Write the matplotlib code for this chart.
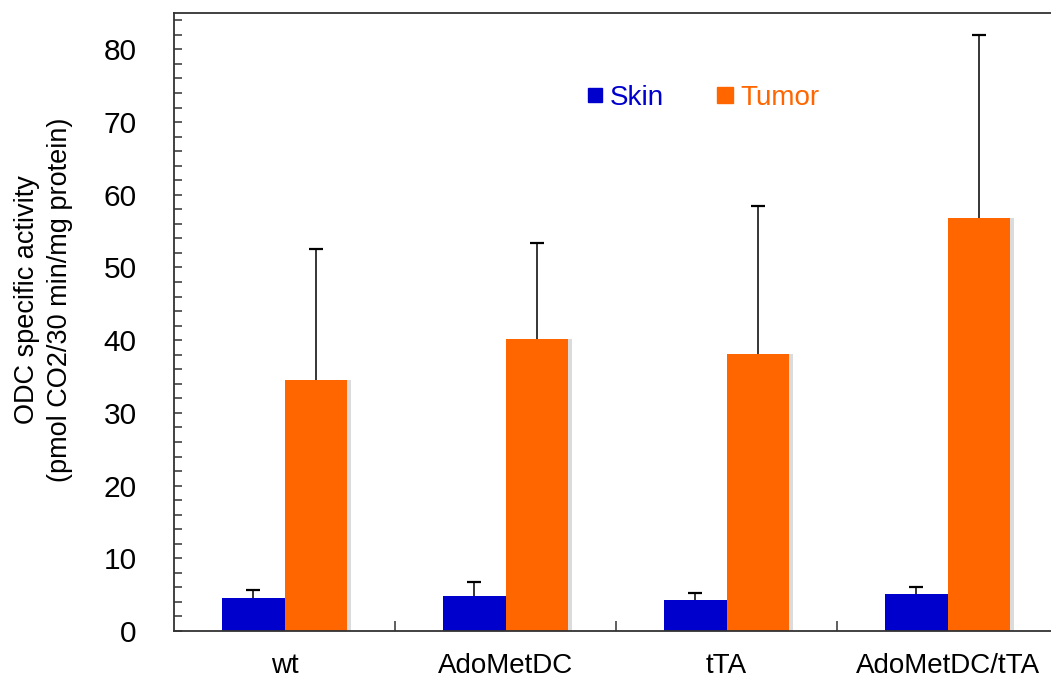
import numpy as np
import matplotlib
matplotlib.use("Agg")
import matplotlib.pyplot as plt
import matplotlib.patheffects as pe
from matplotlib.lines import Line2D
from matplotlib.ticker import MultipleLocator, FixedLocator

plt.rcParams["font.family"] = ["Liberation Sans", "DejaVu Sans"]

# Data
groups = ["wt", "AdoMetDC", "tTA", "AdoMetDC/tTA"]
skin = [4.6, 4.8, 4.2, 5.1]
skin_err = [1.1, 1.9, 1.0, 1.0]
tumor = [34.5, 40.1, 38.1, 56.8]
tumor_err = [18.1, 13.2, 20.3, 25.2]

blue = "#0000CC"
orange = "#FF6600"

fig = plt.figure(figsize=(10.51, 6.82), dpi=100)
ax = fig.add_axes([174 / 1051, 1 - 631 / 682, 884 / 1051, 618 / 682])

x = np.arange(len(groups))
w = 0.285
shadow = [pe.SimplePatchShadow(offset=(2.5, 0), shadow_rgbFace="#999999", alpha=0.35),
          pe.Normal()]

ax.bar(x - w / 2, skin, w, color=blue, zorder=2)
ax.bar(x + w / 2, tumor, w, color=orange, zorder=2, path_effects=shadow)

# upper-only error bars: hide the cap drawn at the bar top
zeros = np.zeros(len(groups))
for xs, vals, errs in [(x - w / 2, skin, skin_err), (x + w / 2, tumor, tumor_err)]:
    _, caps, _ = ax.errorbar(xs, vals, yerr=[zeros, errs], fmt="none", ecolor="black",
                             elinewidth=1.1, capsize=5, capthick=1.6, zorder=3)
    caps[0].set_visible(False)

ax.set_xlim(-0.5, len(groups) - 0.5)
ax.set_ylim(0, 85)

ax.set_xticks(x)
ax.set_xticklabels(groups, fontsize=20)
ax.xaxis.set_minor_locator(FixedLocator(x[:-1] + 0.5))
ax.tick_params(axis="x", which="major", length=0, pad=16)
ax.tick_params(axis="x", which="minor", direction="in", length=7.5, width=1.1,
               color="#333333")

ax.yaxis.set_major_locator(MultipleLocator(10))
ax.yaxis.set_minor_locator(MultipleLocator(2))
ax.tick_params(axis="y", which="both", direction="in", length=6, width=1.1,
               color="#333333", labelsize=21.5, pad=27)

for side in ["left", "bottom", "top"]:
    ax.spines[side].set_linewidth(1.3)
    ax.spines[side].set_color("#333333")
ax.spines["right"].set_visible(False)

fig.text(44 / 1051, 1 - 300 / 682,
         "ODC specific activity\n(pmol CO2/30 min/mg protein)",
         rotation=90, ha="center", va="center", multialignment="center",
         fontsize=19.5, linespacing=1.35)

handles = [
    Line2D([], [], marker="s", linestyle="none", color=blue, markersize=10, label="Skin"),
    Line2D([], [], marker="s", linestyle="none", color=orange, markersize=11, label="Tumor"),
]
fig.legend(handles=handles, loc="center", bbox_to_anchor=(703 / 1051, 1 - 98 / 682),
           ncol=2, frameon=False, fontsize=20, handlelength=0.6, handletextpad=0.25,
           columnspacing=1.9, labelcolor=[blue, orange])

fig.savefig("out.png", dpi=100)
